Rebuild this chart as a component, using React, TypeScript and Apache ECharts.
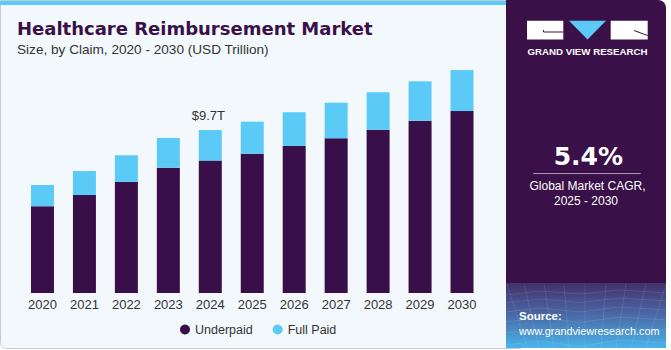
import React, { useEffect, useRef } from "react";
import * as echarts from "echarts";

const categories = ["2020", "2021", "2022", "2023", "2024", "2025", "2026", "2027", "2028", "2029", "2030"];
const underpaid = [5.16, 5.83, 6.61, 7.46, 7.88, 8.29, 8.75, 9.21, 9.72, 10.26, 10.83];
const fullPaid = [1.27, 1.43, 1.59, 1.77, 1.82, 1.91, 2.01, 2.12, 2.23, 2.34, 2.44];
const highlightIndex = 4;
const highlightLabel = "$9.7T";

const DARK = "#380f48";
const BLUE = "#5bcaf7";
const TEXT = "#333333";
const FONT = "'Liberation Sans', Arial, sans-serif";

export default function App() {
  const ref = useRef<HTMLDivElement>(null);
  useEffect(() => {
    document.body.style.margin = "0";
    const chart = echarts.init(ref.current!, null, { renderer: "svg" });
    const fullData = fullPaid.map((v, i) =>
      i === highlightIndex
        ? {
            value: v,
            label: {
              show: true,
              position: "top",
              distance: 8,
              formatter: highlightLabel,
              color: TEXT,
              fontSize: 13,
              fontFamily: FONT,
              offset: [-2, 0],
            },
          }
        : v
    );
    chart.setOption({
      animation: false,
      backgroundColor: "#ffffff",
      textStyle: { fontFamily: FONT },
      grid: { left: 21.5, right: 188, top: 57.8, bottom: 57, containLabel: false },
      xAxis: {
        type: "category",
        data: categories,
        axisLine: { show: false },
        axisTick: { show: false },
        axisLabel: { color: TEXT, fontSize: 13, margin: 5, fontFamily: FONT },
      },
      yAxis: { type: "value", min: 0, max: 14, show: false, splitLine: { show: false } },
      legend: {
        data: [
          { name: "Underpaid", icon: "circle" },
          { name: "Full Paid", icon: "circle" },
        ],
        left: 175,
        top: 318,
        itemWidth: 10,
        itemHeight: 10,
        itemGap: 20,
        textStyle: { color: TEXT, fontSize: 12.5, fontFamily: FONT },
      },
      graphic: [
        // card
        {
          type: "rect",
          z: -10,
          silent: true,
          shape: { x: 0.5, y: 0.5, width: 520, height: 348, r: [0, 0, 0, 6] },
          style: { fill: "#f3f8fc", stroke: "#c8ccd0", lineWidth: 1 },
        },
        {
          type: "rect",
          z: -9,
          silent: true,
          shape: { x: 0, y: 1, width: 507, height: 4 },
          style: { fill: BLUE },
        },
        // right panel
        {
          type: "rect",
          z: -8,
          silent: true,
          shape: { x: 506, y: 0, width: 160, height: 348, r: [0, 8, 0, 0] },
          style: { fill: "#3a1049" },
        },
        {
          type: "rect",
          z: -7,
          silent: true,
          shape: { x: 506, y: 283, width: 160, height: 65 },
          style: {
            fill: new echarts.graphic.LinearGradient(0, 0, 0, 1, [
              { offset: 0, color: "#433068" },
              { offset: 0.5, color: "#4a6aa8" },
              { offset: 1, color: "#49b4ea" },
            ]),
          },
        },
        // mesh lines
        ...[292, 300, 309, 319, 330, 342].map((y, k) => ({
          type: "polyline",
          z: -6,
          silent: true,
          shape: { points: [[506, y + 3], [540, y - 1], [580, y + 2 + k * 0.5], [620, y - 2], [666, y + 1]] },
          style: { stroke: "rgba(255,255,255,0.13)", lineWidth: 0.8, fill: null },
        })),
        ...[515, 530, 548, 566, 585, 604, 622, 640, 658].map((x, k) => ({
          type: "line",
          z: -6,
          silent: true,
          shape: { x1: x + (k - 4) * 2, y1: 284, x2: x - (k - 4) * 3, y2: 348 },
          style: { stroke: "rgba(255,255,255,0.12)", lineWidth: 0.8 },
        })),
        // logo
        {
          type: "rect",
          silent: true,
          shape: { x: 527, y: 20.7, width: 36.3, height: 18.8 },
          style: { fill: "#ffffff" },
        },
        {
          type: "polyline",
          silent: true,
          shape: { points: [[543.5, 30], [543.5, 32], [563.3, 32]] },
          style: { stroke: "#3a1049", lineWidth: 1, fill: null },
        },
        {
          type: "polygon",
          silent: true,
          shape: { points: [[569, 20.7], [606, 20.7], [587.5, 39.5]] },
          style: { fill: BLUE },
        },
        {
          type: "rect",
          silent: true,
          shape: { x: 610.7, y: 20.7, width: 37, height: 18.8 },
          style: { fill: "#ffffff" },
        },
        {
          type: "line",
          silent: true,
          shape: { x1: 634, y1: 30.5, x2: 647.7, y2: 35.5 },
          style: { stroke: "#3a1049", lineWidth: 1 },
        },
        {
          type: "text",
          silent: true,
          style: {
            x: 587.5,
            y: 51,
            text: "GRAND VIEW RESEARCH",
            fill: "#ffffff",
            font: `bold 9.7px ${FONT}`,
            align: "center",
            verticalAlign: "middle",
          },
        },
        // CAGR
        {
          type: "text",
          silent: true,
          style: {
            x: 588.3,
            y: 156.5,
            text: "5.4%",
            fill: "#ffffff",
            font: "bold 25px 'DejaVu Sans', sans-serif",
            align: "center",
            verticalAlign: "middle",
          },
        },
        {
          type: "line",
          silent: true,
          shape: { x1: 533.3, y1: 173.5, x2: 640.7, y2: 173.5 },
          style: { stroke: "#a89ab4", lineWidth: 1.2 },
        },
        {
          type: "text",
          silent: true,
          style: {
            x: 587.5,
            y: 186,
            text: "Global Market CAGR,",
            fill: "#ffffff",
            font: `12px ${FONT}`,
            align: "center",
            verticalAlign: "middle",
          },
        },
        {
          type: "text",
          silent: true,
          style: {
            x: 586,
            y: 201,
            text: "2025 - 2030",
            fill: "#ffffff",
            font: `12px ${FONT}`,
            align: "center",
            verticalAlign: "middle",
          },
        },
        // source
        {
          type: "text",
          silent: true,
          style: {
            x: 519,
            y: 316,
            text: "Source:",
            fill: "#ffffff",
            font: `bold 11.5px ${FONT}`,
            align: "left",
            verticalAlign: "middle",
          },
        },
        {
          type: "text",
          silent: true,
          style: {
            x: 519,
            y: 330.5,
            text: "www.grandviewresearch.com",
            fill: "#ffffff",
            font: `10.8px ${FONT}`,
            align: "left",
            verticalAlign: "middle",
          },
        },
        // titles
        {
          type: "text",
          silent: true,
          style: {
            x: 17,
            y: 28.5,
            text: "Healthcare Reimbursement Market",
            fill: "#3a1049",
            font: "bold 18px 'DejaVu Sans', sans-serif",
            align: "left",
            verticalAlign: "middle",
          },
        },
        {
          type: "text",
          silent: true,
          style: {
            x: 17,
            y: 49,
            text: "Size, by Claim, 2020 - 2030 (USD Trillion)",
            fill: TEXT,
            font: `13.6px ${FONT}`,
            align: "left",
            verticalAlign: "middle",
          },
        },
      ],
      series: [
        {
          name: "Underpaid",
          type: "bar",
          stack: "total",
          barWidth: 23,
          itemStyle: { color: DARK },
          data: underpaid,
        },
        {
          name: "Full Paid",
          type: "bar",
          stack: "total",
          barWidth: 23,
          itemStyle: { color: BLUE },
          data: fullData,
        },
      ],
    });
    return () => chart.dispose();
  }, []);
  return <div ref={ref} style={{ width: 671, height: 350 }} />;
}
